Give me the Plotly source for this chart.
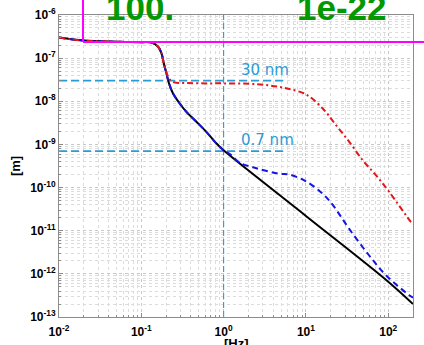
import plotly.graph_objects as go

# ---- data ----
f_black = [0.01, 0.02, 0.05, 0.1, 0.133, 0.16, 0.176, 0.1875, 0.202, 0.217, 0.243, 0.293,
           0.353, 0.467, 0.617, 0.8, 1.0, 10.0, 100.0, 200.0]
v_black = [3.0e-7, 2.55e-7, 2.4e-7, 2.35e-7, 2.3e-7, 1.84e-7, 1.29e-7, 7.6e-8, 4.4e-8, 2.6e-8,
           1.52e-8, 8.9e-9, 5.7e-9, 3.35e-9, 1.96e-9, 1.1e-9, 7.3e-10, 2.2e-11, 6.6e-13, 2.0e-13]

f_red = [0.01, 0.02, 0.05, 0.1, 0.133, 0.16, 0.176, 0.1875, 0.2, 0.21, 0.225, 0.25, 0.35, 0.6,
         1.0, 2.5, 4.77, 6.3, 10.0, 16.0, 23.2, 33.6, 48.9, 70.8, 103.0, 188.0, 200.0]
v_red = [3.0e-7, 2.55e-7, 2.4e-7, 2.35e-7, 2.3e-7, 1.84e-7, 1.29e-7, 7.6e-8, 5.0e-8, 3.8e-8,
         3.1e-8, 2.75e-8, 2.65e-8, 2.6e-8, 2.6e-8, 2.5e-8, 2.15e-8, 1.92e-8, 1.45e-8, 6.8e-9,
         2.8e-9, 1.15e-9, 4.3e-10, 1.94e-10, 7.9e-11, 1.6e-11, 1.4e-11]

f_blue = [0.01, 0.02, 0.05, 0.1, 0.133, 0.16, 0.176, 0.1875, 0.202, 0.217, 0.243, 0.293,
          0.353, 0.467, 0.617, 0.8, 1.0, 1.2, 1.56, 2.5, 4.77, 6.3, 10.0, 16.0, 21.3, 33.6,
          58.4, 94.0, 180.0, 200.0]
v_blue = [3.0e-7, 2.55e-7, 2.4e-7, 2.35e-7, 2.3e-7, 1.84e-7, 1.29e-7, 7.6e-8, 4.4e-8, 2.6e-8,
          1.52e-8, 8.9e-9, 5.7e-9, 3.35e-9, 1.96e-9, 1.1e-9, 7.3e-10, 5.9e-10, 3.8e-10, 2.8e-10,
          2.1e-10, 2.0e-10, 1.4e-10, 7.2e-11, 3.9e-11, 1.1e-11, 2.7e-12, 9.3e-13, 3.2e-13, 2.8e-13]

ref_f_span = [0.01, 5.3]
ref_30nm = 3.0e-8
ref_07nm = 7.0e-10
ref_freq = 1.0
ref_v_span = [1e-13, 1e-6]

x_ticks = [0.01, 0.1, 1, 10, 100]
x_ticktext = ["10<sup>-2</sup>", "10<sup>-1</sup>", "10<sup>0</sup>", "10<sup>1</sup>", "10<sup>2</sup>"]
y_ticks = [1e-13, 1e-12, 1e-11, 1e-10, 1e-9, 1e-8, 1e-7, 1e-6]
y_ticktext = ["10<sup>-13</sup>", "10<sup>-12</sup>", "10<sup>-11</sup>", "10<sup>-10</sup>",
              "10<sup>-9</sup>", "10<sup>-8</sup>", "10<sup>-7</sup>", "10<sup>-6</sup>"]

x_minor = [m * 10.0 ** e for e in range(-2, 3) for m in range(2, 10)]
y_minor = [m * 10.0 ** e for e in range(-13, -6) for m in range(2, 10)]

CYAN = "#2b9bd3"

fig = go.Figure()
fig.add_trace(go.Scatter(x=[ref_freq, ref_freq], y=ref_v_span, mode="lines",
                         line=dict(color=CYAN, width=1.1, dash="6px,3px"), hoverinfo="skip"))
fig.add_trace(go.Scatter(x=ref_f_span, y=[ref_30nm, ref_30nm], mode="lines",
                         line=dict(color=CYAN, width=1.8, dash="8px,4px"), hoverinfo="skip"))
fig.add_trace(go.Scatter(x=ref_f_span, y=[ref_07nm, ref_07nm], mode="lines",
                         line=dict(color=CYAN, width=1.8, dash="8px,4px"), hoverinfo="skip"))
fig.add_trace(go.Scatter(x=f_black, y=v_black, mode="lines", line=dict(color="black", width=2),
                         line_shape="spline"))
fig.add_trace(go.Scatter(x=f_blue, y=v_blue, mode="lines",
                         line=dict(color="#1414e6", width=2, dash="6px,4px"), line_shape="spline"))
fig.add_trace(go.Scatter(x=f_red, y=v_red, mode="lines",
                         line=dict(color="#e3161b", width=2, dash="6px,3px,2px,3px"),
                         line_shape="spline"))

axis_common = dict(
    type="log", showline=True, mirror=True, linecolor="#8c8c8c", linewidth=1,
    ticks="inside", ticklen=4, tickcolor="#8c8c8c", automargin=False,
    showgrid=True, gridcolor="#c8c8c8", griddash="dot", gridwidth=1,
    zeroline=False,
    tickfont=dict(family="Liberation Sans", size=12, color="black", weight="bold"),
)

fig.update_layout(
    width=424, height=345,
    margin=dict(l=59, r=11, t=15, b=28),
    plot_bgcolor="white", paper_bgcolor="white",
    showlegend=False,
    xaxis=dict(axis_common, range=[-2, 2.301], tickvals=x_ticks, ticktext=x_ticktext,
               ticklabelstandoff=4,
               minor=dict(tickvals=x_minor, ticks="inside", ticklen=2, tickcolor="#8c8c8c",
                          showgrid=True, gridcolor="#dcdcdc", griddash="dot", gridwidth=1)),
    yaxis=dict(axis_common, range=[-13, -6], tickvals=y_ticks, ticktext=y_ticktext,
               minor=dict(tickvals=y_minor, ticks="inside", ticklen=2, tickcolor="#8c8c8c",
                          showgrid=True, gridcolor="#dcdcdc", griddash="dot", gridwidth=1),
               title=dict(text="<b>[m]</b>", standoff=6,
                          font=dict(family="Liberation Sans", size=13, color="black"))),
    shapes=[
        dict(type="line", xref="paper", yref="paper", x0=0.0678, x1=0.0678, y0=0.9106, y1=1.06,
             line=dict(color="#ff00ff", width=2)),
        dict(type="line", xref="paper", yref="paper", x0=0.0678, x1=1.04, y0=0.9106, y1=0.9106,
             line=dict(color="#ff00ff", width=2)),
    ],
    annotations=[
        dict(text="<b>[Hz]</b>", x=0.5, y=-(343 - 317) / 302, xref="paper", yref="paper",
             xanchor="center", yanchor="middle", showarrow=False,
             font=dict(family="Liberation Sans", size=13, color="black")),
        dict(text="30 nm", x=0.182, y=-7.276, xref="x", yref="y", xanchor="left", yanchor="middle",
             showarrow=False, font=dict(family="DejaVu Sans", size=15, color=CYAN)),
        dict(text="0.7 nm", x=0.182, y=-8.89, xref="x", yref="y", xanchor="left", yanchor="middle",
             showarrow=False, font=dict(family="DejaVu Sans", size=15, color=CYAN)),
        dict(text="<b>100.</b>", x=(140 - 59) / 354, y=(317 - 8) / 302, xref="paper", yref="paper",
             xanchor="center", yanchor="middle", showarrow=False,
             font=dict(family="Liberation Sans", size=35, color="#009900")),
        dict(text="<b>1e-22</b>", x=(342 - 59) / 354, y=(317 - 8) / 302, xref="paper", yref="paper",
             xanchor="center", yanchor="middle", showarrow=False,
             font=dict(family="Liberation Sans", size=35, color="#009900")),
    ],
)

fig.write_html("out.html", config={"displayModeBar": False},
               post_script="document.body.style.margin='0';")
